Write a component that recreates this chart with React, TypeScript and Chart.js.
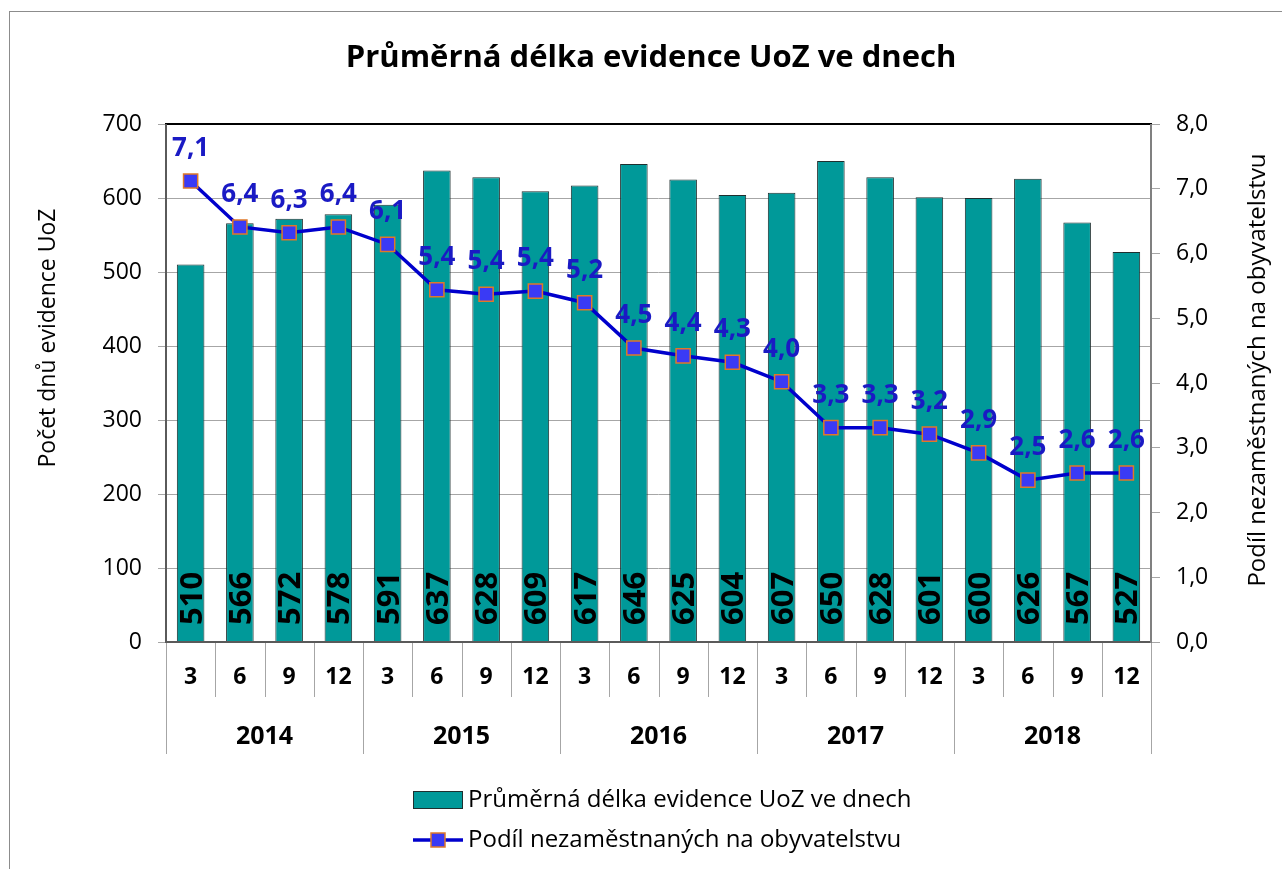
import React, { useEffect, useRef } from 'react';
import { Chart, registerables } from 'chart.js';

Chart.register(...registerables);

const months = ['3', '6', '9', '12', '3', '6', '9', '12', '3', '6', '9', '12', '3', '6', '9', '12', '3', '6', '9', '12'];
const years = ['2014', '2015', '2016', '2017', '2018'];
const days = [510, 566, 572, 578, 591, 637, 628, 609, 617, 646, 625, 604, 607, 650, 628, 601, 600, 626, 567, 527];
const share = [7.12, 6.41, 6.32, 6.41, 6.14, 5.44, 5.37, 5.42, 5.24, 4.54, 4.42, 4.32, 4.02, 3.31, 3.31, 3.21, 2.92, 2.5, 2.61, 2.61];
const leftTicks = [0, 100, 200, 300, 400, 500, 600, 700];
const rightTicks = [0, 1, 2, 3, 4, 5, 6, 7, 8];

const TITLE = 'Průměrná délka evidence UoZ ve dnech';
const BAR_NAME = 'Průměrná délka evidence UoZ ve dnech';
const LINE_NAME = 'Podíl nezaměstnaných na obyvatelstvu';
const Y_TITLE = 'Počet dnů evidence UoZ';
const Y1_TITLE = 'Podíl nezaměstnaných na obyvatelstvu';

const FONT = '"Open Sans", "Noto Sans", sans-serif';
const fmt = (v: number) => v.toFixed(1).replace('.', ',');

const W = 1282;
const H = 869;

export default function App() {
  const ref = useRef<HTMLCanvasElement | null>(null);

  useEffect(() => {
    const canvas = ref.current;
    if (!canvas) return;

    const overlay = {
      id: 'overlay',
      afterDraw(chart: any) {
        const ctx = chart.ctx;
        const ca = chart.chartArea;
        const xs = chart.scales.x;
        const n = months.length;
        const cw = (ca.right - ca.left) / n;
        ctx.save();

        // plot borders
        ctx.lineCap = 'butt';
        ctx.strokeStyle = '#000000';
        ctx.lineWidth = 2;
        ctx.beginPath();
        ctx.moveTo(ca.left - 1, ca.top);
        ctx.lineTo(ca.right + 1, ca.top);
        ctx.stroke();
        ctx.strokeStyle = '#5a5a5a';
        ctx.beginPath();
        ctx.moveTo(ca.left, ca.top);
        ctx.lineTo(ca.left, ca.bottom + 1);
        ctx.stroke();
        ctx.beginPath();
        ctx.moveTo(ca.left, ca.bottom);
        ctx.lineTo(ca.right, ca.bottom);
        ctx.stroke();
        ctx.strokeStyle = '#808080';
        ctx.beginPath();
        ctx.moveTo(ca.right, ca.top);
        ctx.lineTo(ca.right, ca.bottom + 1);
        ctx.stroke();

        // category separators
        ctx.strokeStyle = '#a6a6a6';
        ctx.lineWidth = 1;
        for (let k = 0; k <= n; k++) {
          const x = Math.round(ca.left + cw * k) + 0.5;
          const yEnd = k % 4 === 0 ? ca.bottom + 112 : ca.bottom + 55;
          ctx.beginPath();
          ctx.moveTo(x, ca.bottom + 1);
          ctx.lineTo(x, yEnd);
          ctx.stroke();
        }

        // month labels
        ctx.fillStyle = '#000000';
        ctx.font = `bold 23px ${FONT}`;
        ctx.textAlign = 'center';
        ctx.textBaseline = 'middle';
        months.forEach((m, i) => {
          ctx.fillText(m, xs.getPixelForValue(i), ca.bottom + 35);
        });
        // year labels
        ctx.font = `bold 25px ${FONT}`;
        years.forEach((y, j) => {
          const cx = ca.left + cw * (j * 4 + 2);
          ctx.fillText(y, cx, ca.bottom + 95);
        });

        // bar value labels
        const barMeta = chart.getDatasetMeta(0);
        ctx.font = `bold 31px ${FONT}`;
        ctx.textAlign = 'left';
        ctx.textBaseline = 'alphabetic';
        barMeta.data.forEach((el: any, i: number) => {
          ctx.save();
          ctx.translate(el.x, ca.bottom - 17);
          ctx.rotate(-Math.PI / 2);
          ctx.fillText(String(days[i]), 0, 11);
          ctx.restore();
        });

        // line value labels
        const lineMeta = chart.getDatasetMeta(1);
        ctx.font = `bold 26px ${FONT}`;
        ctx.fillStyle = '#1a1ac4';
        ctx.textAlign = 'center';
        ctx.textBaseline = 'alphabetic';
        lineMeta.data.forEach((el: any, i: number) => {
          ctx.fillText(fmt(share[i]), el.x, el.y - 25);
        });

        // axis titles
        ctx.fillStyle = '#000000';
        ctx.textAlign = 'center';
        ctx.textBaseline = 'middle';
        ctx.font = `23px ${FONT}`;
        ctx.save();
        ctx.translate(48, 338);
        ctx.rotate(-Math.PI / 2);
        ctx.fillText(Y_TITLE, 0, 0);
        ctx.restore();
        ctx.font = `24px ${FONT}`;
        ctx.save();
        ctx.translate(1258, 370);
        ctx.rotate(-Math.PI / 2);
        ctx.fillText(Y1_TITLE, 0, 0);
        ctx.restore();

        // title
        ctx.font = `bold 31px ${FONT}`;
        ctx.textBaseline = 'alphabetic';
        ctx.fillText(TITLE, 651, 67);

        // legend
        ctx.font = `24px ${FONT}`;
        ctx.textAlign = 'left';
        ctx.textBaseline = 'middle';
        ctx.fillStyle = '#009999';
        ctx.fillRect(413, 791, 49, 17);
        ctx.strokeStyle = '#1f2f2f';
        ctx.lineWidth = 1;
        ctx.strokeRect(413.5, 791.5, 49, 17);
        ctx.fillStyle = '#000000';
        ctx.fillText(BAR_NAME, 468, 800);

        ctx.strokeStyle = '#0000cc';
        ctx.lineWidth = 3.5;
        ctx.beginPath();
        ctx.moveTo(413, 840);
        ctx.lineTo(463, 840);
        ctx.stroke();
        ctx.fillStyle = '#3a3af5';
        ctx.fillRect(431, 833, 14, 14);
        ctx.strokeStyle = '#e07828';
        ctx.lineWidth = 1.5;
        ctx.strokeRect(431, 833, 14, 14);
        ctx.fillStyle = '#000000';
        ctx.fillText(LINE_NAME, 468, 840);

        ctx.restore();
      },
    };

    const chart = new Chart(canvas, {
      type: 'bar',
      data: {
        labels: months,
        datasets: [
          {
            type: 'bar',
            label: BAR_NAME,
            data: days,
            yAxisID: 'y',
            backgroundColor: '#009999',
            borderColor: '#1f2f2f',
            borderWidth: 1,
            categoryPercentage: 1,
            barPercentage: 0.56,
            order: 2,
          },
          {
            type: 'line',
            label: LINE_NAME,
            data: share,
            yAxisID: 'y1',
            borderColor: '#0000cc',
            borderWidth: 3.5,
            pointStyle: 'rect',
            pointRadius: 10,
            pointBackgroundColor: '#3a3af5',
            pointBorderColor: '#e07828',
            pointBorderWidth: 1.5,
            tension: 0,
            order: 1,
          } as any,
        ],
      },
      options: {
        responsive: false,
        animation: false,
        layout: { padding: { left: 10, right: 10, top: 124, bottom: 115 } },
        plugins: {
          legend: { display: false },
          title: { display: false },
          tooltip: { enabled: false },
        },
        scales: {
          x: {
            type: 'category',
            offset: true,
            grid: { display: false },
            border: { display: false },
            ticks: { display: false },
            afterFit: (s: any) => {
              s.height = 112;
            },
          },
          y: {
            position: 'left',
            min: 0,
            max: 700,
            afterBuildTicks: (s: any) => {
              s.ticks = leftTicks.map((v) => ({ value: v }));
            },
            ticks: {
              color: '#000000',
              font: { family: FONT, size: 23 },
              padding: 16,
            },
            grid: { color: '#a6a6a6', lineWidth: 1, tickLength: 8 },
            border: { display: false },
            afterFit: (s: any) => {
              s.width = 156;
            },
          },
          y1: {
            position: 'right',
            min: 0,
            max: 8,
            afterBuildTicks: (s: any) => {
              s.ticks = rightTicks.map((v) => ({ value: v }));
            },
            ticks: {
              color: '#000000',
              font: { family: FONT, size: 23 },
              padding: 16,
              callback: (v: any) => fmt(Number(v)),
            },
            grid: { color: '#a6a6a6', lineWidth: 1, tickLength: 9, drawOnChartArea: false },
            border: { display: false },
            afterFit: (s: any) => {
              s.width = 121;
            },
          },
        },
      } as any,
      plugins: [overlay],
    });

    return () => chart.destroy();
  }, []);

  return (
    <div style={{ position: 'fixed', left: 0, top: 0, width: W, height: H, background: '#ffffff', overflow: 'hidden' }}>
      <div
        style={{
          position: 'absolute',
          left: 9,
          top: 11,
          width: W,
          height: H,
          borderLeft: '1px solid #8c8c8c',
          borderTop: '1px solid #8c8c8c',
        }}
      />
      <canvas ref={ref} width={W} height={H} style={{ position: 'absolute', left: 0, top: 0, width: W, height: H }} />
    </div>
  );
}
